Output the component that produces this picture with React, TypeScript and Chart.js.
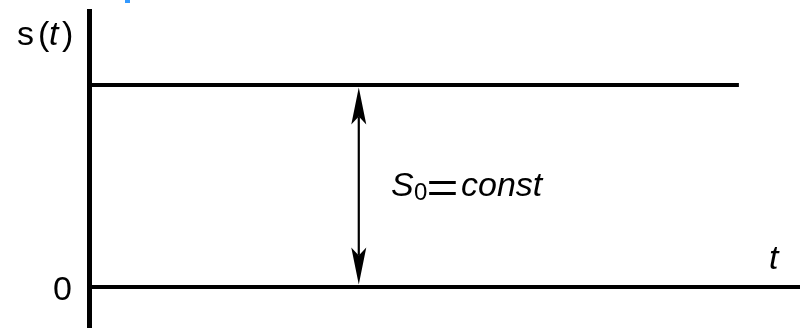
import React, { useEffect, useRef } from "react";
import { Chart, registerables } from "chart.js";

Chart.register(...registerables);

// ---- data ----
const timeRange = [0, 10];           // t-axis extent (to the right edge)
const signalTimes = [0, 9.14];       // s(t) = S0 drawn over this interval
const signalLevel = 1;               // S0
const zeroLevel = 0;
const valueRange = [-0.203, 1.376];  // s-axis extent
const arrowTime = 3.79;              // position of the S0 dimension arrow
const yTickLabels = ["0"];
const yAxisTitle = ["s", "(", "t", ")"];
const xAxisTitle = "t";
const levelLabel = ["S", "0", "=", "const"];

const FONT = "'Liberation Sans', Arial, Helvetica, sans-serif";

function put(
  ctx: CanvasRenderingContext2D,
  text: string,
  font: string,
  left: number,
  baseline: number
) {
  ctx.font = font;
  const m = ctx.measureText(text);
  ctx.textAlign = "left";
  ctx.textBaseline = "alphabetic";
  ctx.fillText(text, left + m.actualBoundingBoxLeft, baseline);
}

function putBox(
  ctx: CanvasRenderingContext2D,
  text: string,
  font: string,
  left: number,
  top: number,
  width: number,
  height: number
) {
  ctx.font = font;
  const m = ctx.measureText(text);
  const iw = m.actualBoundingBoxLeft + m.actualBoundingBoxRight;
  const ih = m.actualBoundingBoxAscent + m.actualBoundingBoxDescent;
  ctx.save();
  ctx.translate(left, top);
  ctx.scale(width / iw, height / ih);
  ctx.textAlign = "left";
  ctx.textBaseline = "alphabetic";
  ctx.fillText(text, m.actualBoundingBoxLeft, m.actualBoundingBoxAscent);
  ctx.restore();
}

const overlay = {
  id: "overlay",
  afterDatasetsDraw(chart: any) {
    const ctx: CanvasRenderingContext2D = chart.ctx;
    const xs = chart.scales.x;
    const ys = chart.scales.y;
    ctx.save();
    ctx.fillStyle = "#000";
    ctx.strokeStyle = "#000";

    // double-headed dimension arrow between 0 and S0
    const cx = xs.getPixelForValue(arrowTime);
    const yTop = ys.getPixelForValue(signalLevel) + 2.5;
    const yBot = ys.getPixelForValue(zeroLevel) - 2.5;
    const headLen = 37;
    const headHalf = 7.5;
    const notch = 29;
    ctx.lineWidth = 2.2;
    ctx.beginPath();
    ctx.moveTo(cx, yTop + notch);
    ctx.lineTo(cx, yBot - notch);
    ctx.stroke();
    ctx.beginPath();
    ctx.moveTo(cx, yTop);
    ctx.lineTo(cx - headHalf, yTop + headLen);
    ctx.lineTo(cx, yTop + notch);
    ctx.lineTo(cx + headHalf, yTop + headLen);
    ctx.closePath();
    ctx.fill();
    ctx.beginPath();
    ctx.moveTo(cx, yBot);
    ctx.lineTo(cx - headHalf, yBot - headLen);
    ctx.lineTo(cx, yBot - notch);
    ctx.lineTo(cx + headHalf, yBot - headLen);
    ctx.closePath();
    ctx.fill();

    // S0=const
    put(ctx, levelLabel[0], `italic 34px ${FONT}`, 391, 196);
    put(ctx, levelLabel[1], `24px ${FONT}`, 414, 200);
    putBox(ctx, levelLabel[2], `34px ${FONT}`, 428, 180, 29, 14);
    put(ctx, levelLabel[3], `italic 34px ${FONT}`, 462, 196);

    // y-axis title s(t)
    put(ctx, yAxisTitle[0], `34px ${FONT}`, 17, 45);
    put(ctx, yAxisTitle[1], `34px ${FONT}`, 40, 45);
    put(ctx, yAxisTitle[2], `italic 34px ${FONT}`, 50, 45);
    put(ctx, yAxisTitle[3], `34px ${FONT}`, 62, 45);

    // y tick label
    const y0 = ys.getPixelForValue(zeroLevel);
    put(ctx, yTickLabels[0], `34px ${FONT}`, 54, y0 + 13);

    // x-axis title
    put(ctx, xAxisTitle, `italic 34px ${FONT}`, 770, 269);

    // small blue mark at the top (cropped heading)
    ctx.fillStyle = "#3399ff";
    ctx.fillRect(125, 0, 5, 3);
    ctx.restore();
  },
};

export default function App() {
  const ref = useRef<HTMLCanvasElement | null>(null);
  useEffect(() => {
    document.body.style.margin = "0";
    const canvas = ref.current!;
    const line = (label: string, data: { x: number; y: number }[], w: number) => ({
      label,
      data,
      borderColor: "#000",
      borderWidth: w,
      pointRadius: 0,
      clip: false as any,
      borderCapStyle: "butt" as const,
    });
    const chart = new Chart(canvas, {
      type: "line",
      data: {
        datasets: [
          line("s-axis", [
            { x: timeRange[0], y: valueRange[0] },
            { x: timeRange[0], y: valueRange[1] },
          ], 5),
          line("zero", [
            { x: timeRange[0], y: zeroLevel },
            { x: timeRange[1], y: zeroLevel },
          ], 4),
          line("S0", signalTimes.map((t) => ({ x: t, y: signalLevel })), 4),
        ],
      },
      options: {
        animation: false,
        responsive: false,
        devicePixelRatio: 1,
        layout: { padding: { left: 89.5, right: 0, top: 9, bottom: 0 } },
        plugins: { legend: { display: false }, tooltip: { enabled: false } },
        scales: {
          x: { type: "linear", min: timeRange[0], max: timeRange[1], display: false },
          y: { type: "linear", min: valueRange[0], max: valueRange[1], display: false },
        },
      },
      plugins: [overlay],
    });
    return () => chart.destroy();
  }, []);
  return (
    <div style={{ position: "fixed", left: 0, top: 0, width: 800, height: 328, background: "#fff" }}>
      <canvas ref={ref} width={800} height={328} style={{ display: "block" }} />
    </div>
  );
}
